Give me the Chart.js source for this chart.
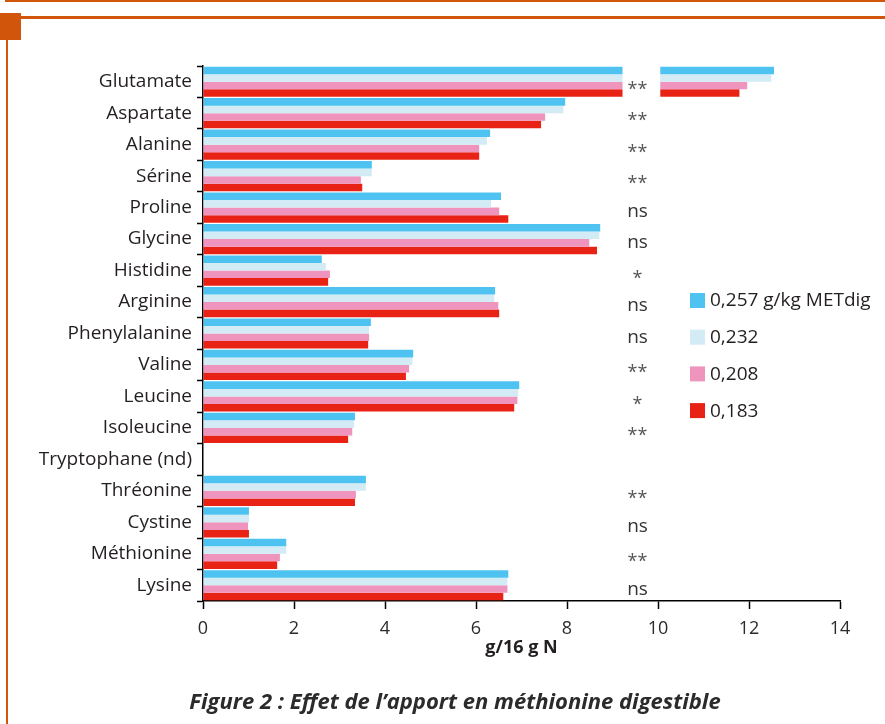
<!DOCTYPE html>
<html>
<head>
<meta charset="utf-8">
<script src="https://cdn.jsdelivr.net/npm/chart.js@4/dist/chart.umd.min.js"></script>
<style>
  html, body { margin: 0; padding: 0; background: #fff; }
  #wrap { position: relative; width: 885px; height: 724px; }
</style>
</head>
<body>
<div id="wrap"><canvas id="c" width="885" height="724"></canvas></div>
<script>
const categories = ['Glutamate','Aspartate','Alanine','Sérine','Proline','Glycine','Histidine','Arginine','Phenylalanine','Valine','Leucine','Isoleucine','Tryptophane (nd)','Thréonine','Cystine','Méthionine','Lysine'];
const seriesNames = ['0,257 g/kg METdig','0,232','0,208','0,183'];
const s257 = [12.55, 7.96, 6.31, 3.71, 6.55, 8.73, 2.61, 6.42, 3.69, 4.62, 6.95, 3.34, null, 3.58, 1.01, 1.83, 6.71];
const s232 = [12.49, 7.92, 6.24, 3.71, 6.33, 8.71, 2.70, 6.40, 3.65, 4.60, 6.93, 3.32, null, 3.58, 1.01, 1.83, 6.69];
const s208 = [11.96, 7.52, 6.07, 3.47, 6.51, 8.49, 2.79, 6.49, 3.65, 4.53, 6.91, 3.28, null, 3.36, 0.99, 1.69, 6.69];
const s183 = [11.79, 7.43, 6.07, 3.50, 6.71, 8.66, 2.75, 6.51, 3.63, 4.46, 6.84, 3.19, null, 3.34, 1.01, 1.63, 6.60];
const significance = ['**','**','**','**','ns','ns','*','ns','ns','**','*','**','','**','ns','**','ns'];
const xTicks = [0, 2, 4, 6, 8, 10, 12, 14];
const breakStart = 9.22, breakEnd = 10.05, sigX = 9.55;
const colors = ['#4ec3f1', '#d3ebf4', '#ee94bd', '#e82316'];
const ORANGE = '#d2550c';
const TXT = '#231f20';

const overlay = {
  id: 'overlay',
  beforeDraw(chart) {
    const ctx = chart.ctx;
    ctx.save();
    ctx.fillStyle = '#fff';
    ctx.fillRect(0, 0, chart.width, chart.height);
    ctx.fillStyle = ORANGE;
    ctx.fillRect(5, 0, 880, 2);
    ctx.fillRect(20, 16, 865, 3);
    ctx.fillRect(0, 13, 21, 27);
    ctx.fillRect(6, 40, 2, 684);
    ctx.restore();
  },
  afterDatasetsDraw(chart) {
    const ctx = chart.ctx, xs = chart.scales.x, ys = chart.scales.y;
    ctx.save();
    // axis break gap
    const x0 = xs.getPixelForValue(breakStart), x1 = xs.getPixelForValue(breakEnd);
    ctx.fillStyle = '#fff';
    ctx.fillRect(x0, chart.chartArea.top, x1 - x0, chart.chartArea.bottom - chart.chartArea.top - 1);
    // significance marks
    const sx = xs.getPixelForValue(sigX);
    ctx.textAlign = 'center';
    ctx.textBaseline = 'middle';
    significance.forEach((s, i) => {
      if (!s) return;
      const cy = ys.getPixelForValue(i);
      if (s === 'ns') {
        ctx.fillStyle = '#333';
        ctx.font = '19px "Open Sans"';
        ctx.fillText(s, sx, cy + 4);
      } else {
        ctx.fillStyle = '#555';
        ctx.font = '18px "Open Sans"';
        ctx.fillText(s, sx, cy + 8);
      }
    });
    // legend
    ctx.textAlign = 'left';
    ctx.font = '19px "Open Sans"';
    seriesNames.forEach((n, i) => {
      const y = 293 + i * 36.7;
      ctx.fillStyle = colors[i];
      ctx.fillRect(690, y, 15, 15);
      ctx.fillStyle = TXT;
      ctx.fillText(n, 710, y + 8);
    });
    // caption
    ctx.textAlign = 'center';
    ctx.fillStyle = '#2b2b2b';
    ctx.font = 'italic bold 22px "Open Sans"';
    ctx.fillText('Figure 2 : Effet de l\u2019apport en méthionine digestible', 455, 703);
    ctx.restore();
  }
};

new Chart(document.getElementById('c'), {
  type: 'bar',
  data: {
    labels: categories,
    datasets: [s257, s232, s208, s183].map((d, i) => ({
      label: seriesNames[i],
      data: d,
      backgroundColor: colors[i],
      borderWidth: 0,
      categoryPercentage: 0.96,
      barPercentage: 1.0
    }))
  },
  options: {
    indexAxis: 'y',
    responsive: false,
    animation: false,
    layout: { padding: { left: 0, right: 45, top: 66, bottom: 63 } },
    plugins: { legend: { display: false }, tooltip: { enabled: false }, title: { display: false } },
    scales: {
      x: {
        type: 'linear',
        min: 0, max: 14,
        afterBuildTicks(scale) { scale.ticks = xTicks.map(v => ({ value: v })); },
        afterFit(scale) { scale.height = 60; },
        border: { color: '#000', width: 1.5 },
        grid: { display: true, drawOnChartArea: false, tickLength: 8, color: '#000', tickColor: '#000', tickWidth: 1.5 },
        ticks: { color: '#2b2b2b', font: { family: 'Open Sans', size: 18 }, padding: 9, maxRotation: 0 },
        title: { display: true, text: 'g/16 g N', color: '#231f20', font: { family: 'Open Sans', size: 18, weight: 'bold' }, padding: { top: 0, bottom: 2 } }
      },
      y: {
        type: 'category',
        afterFit(scale) { scale.width = 203; },
        border: { color: '#000', width: 1.5 },
        grid: { display: true, offset: true, drawOnChartArea: false, tickLength: 6, color: '#000', tickColor: '#000', tickWidth: 1.5 },
        ticks: { color: TXT, font: { family: 'Open Sans', size: 19 }, padding: 5, autoSkip: false }
      }
    }
  },
  plugins: [overlay]
});
</script>
</body>
</html>
